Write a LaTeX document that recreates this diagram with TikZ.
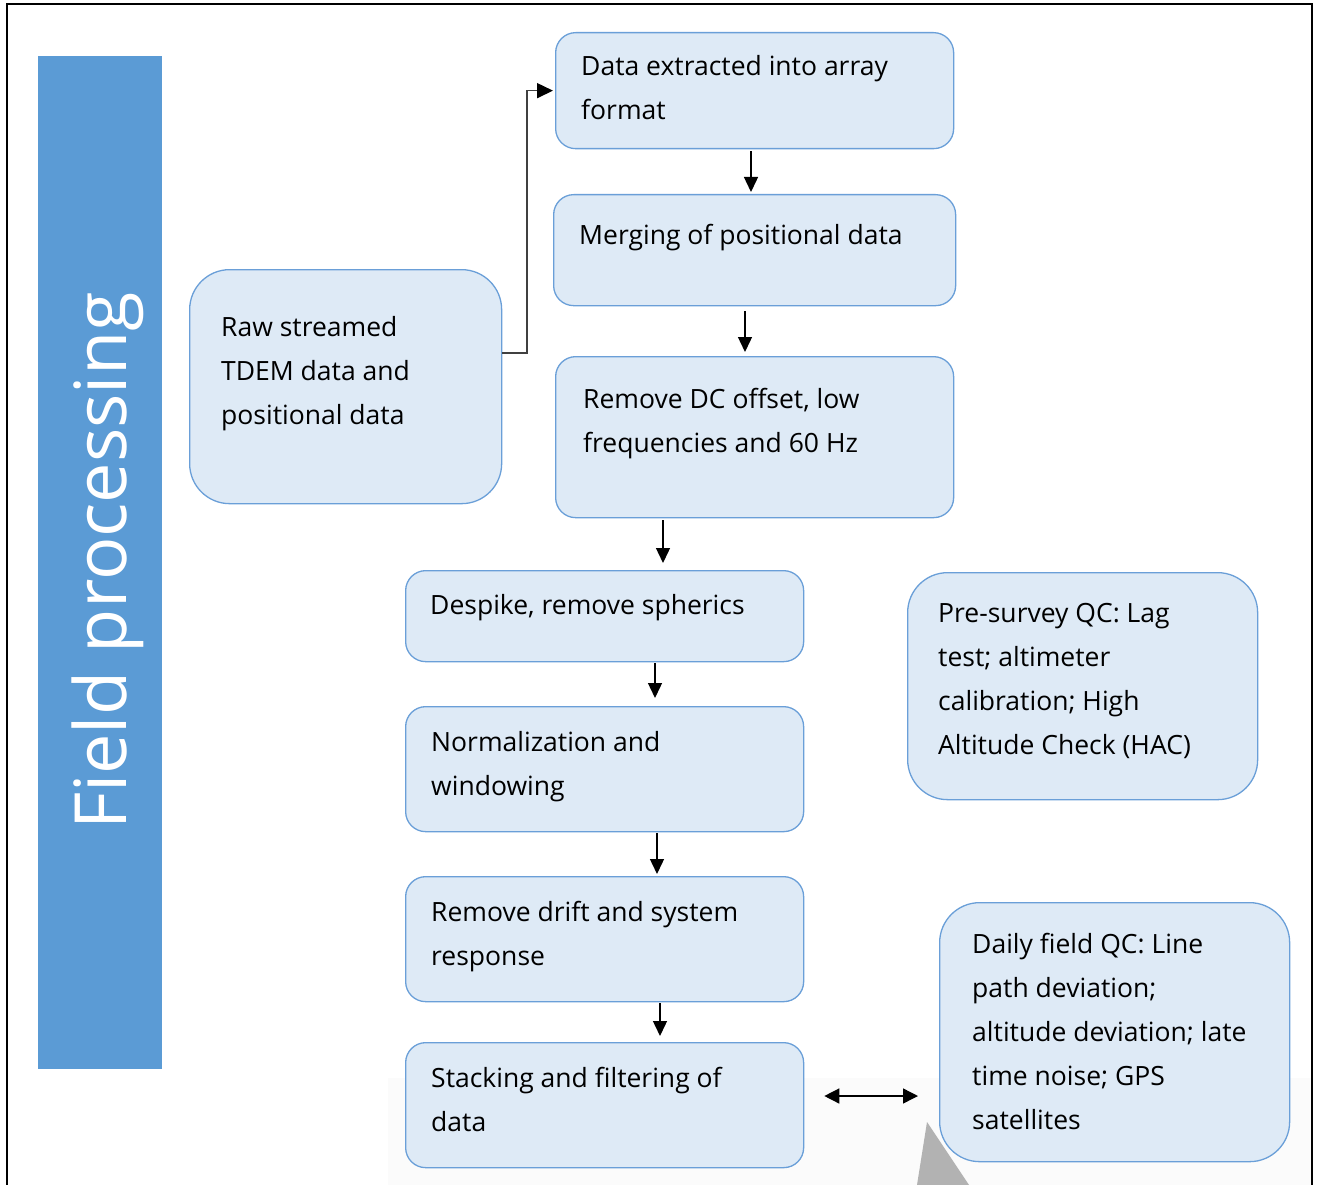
\documentclass[tikz,border=0pt]{standalone}
\usepackage{fontspec}
\setmainfont{Open Sans}
\usetikzlibrary{arrows.meta,calc}

\definecolor{barblue}{HTML}{5B9BD5}
\definecolor{boxfill}{HTML}{DEEAF6}
\definecolor{boxline}{HTML}{6A9FD8}
\definecolor{elbowgray}{HTML}{404040}

% text block inside a box: first-line baseline is the anchor
\newcommand\stepText[1]{\parbox[t]{400pt}{\raggedright\fontsize{26.5}{44}\selectfont #1}}

\tikzset{
  x=1pt, y=-1pt,
  stepbox/.style={draw=boxline, line width=1.3pt, fill=boxfill,
    rounded corners=20pt, inner sep=0pt, anchor=north west},
  bigbox/.style={stepbox, rounded corners=40pt},
  steptext/.style={inner sep=0pt, anchor=base west, text=black},
  arr/.style={line width=1.4pt, -{Triangle[length=15pt,width=14pt]}},
  dblarr/.style={line width=1.4pt, {Triangle[length=15pt,width=15pt]}-{Triangle[length=15pt,width=15pt]}},
}

\begin{document}
\begin{tikzpicture}
\useasboundingbox (0,0) rectangle (1317,1185);
\fill[white] (0,0) rectangle (1317,1185);

% faint shaded patch along the bottom edge
\fill[black!1.5] (388,1078) rectangle (1312,1185);
\fill[black!30] (927,1122) -- (969,1185) -- (917,1185) -- cycle;

% outer frame (open at the bottom)
\draw[line width=2.6pt, line cap=rect] (7,1186) -- (7,4) -- (1312,4) -- (1312,1186);

% side banner
\fill[barblue] (38,56) rectangle (162,1069);
\node[rotate=90, anchor=base, text=white, inner sep=0pt, font=\fontsize{72}{72}\selectfont]
  (title) at (126,561) {Field processing};

% process boxes
\node[stepbox, minimum width=398pt, minimum height=116pt] (extract) at (555,32) {};
\node[stepbox, minimum width=402pt, minimum height=111pt] (merge) at (553,194) {};
\node[stepbox, minimum width=398pt, minimum height=161pt] (dcoff) at (555,356) {};
\node[bigbox, minimum width=312pt, minimum height=234pt] (raw) at (189,269) {};
\node[stepbox, minimum width=398pt, minimum height=91pt] (despike) at (405,570) {};
\node[stepbox, minimum width=398pt, minimum height=125pt] (norm) at (405,706) {};
\node[stepbox, minimum width=398pt, minimum height=125pt] (drift) at (405,876) {};
\node[stepbox, minimum width=398pt, minimum height=125pt] (stack) at (405,1042) {};
\node[bigbox, minimum width=350pt, minimum height=227pt] (preqc) at (907,572) {};
\node[bigbox, minimum width=350pt, minimum height=259pt] (dailyqc) at (939,902) {};

% box labels
\node[steptext] (extract-t) at ($(extract.north west)+(26,44)$) {\stepText{Data extracted into array\\format}};
\node[steptext] (merge-t) at ($(merge.north west)+(26,50)$) {\stepText{Merging of positional data}};
\node[steptext] (dcoff-t) at ($(dcoff.north west)+(28,52)$) {\stepText{Remove DC offset, low\\frequencies and 60 Hz}};
\node[steptext] (raw-t) at ($(raw.north west)+(32,67)$) {\stepText{Raw streamed\\TDEM data and\\positional data}};
\node[steptext] (despike-t) at ($(despike.north west)+(25,44)$) {\stepText{Despike, remove spherics}};
\node[steptext] (norm-t) at ($(norm.north west)+(26,45)$) {\stepText{Normalization and\\windowing}};
\node[steptext] (drift-t) at ($(drift.north west)+(26,45)$) {\stepText{Remove drift and system\\response}};
\node[steptext] (stack-t) at ($(stack.north west)+(26,45)$) {\stepText{Stacking and filtering of\\data}};
\node[steptext] (preqc-t) at ($(preqc.north west)+(31,50)$) {\stepText{Pre-survey QC: Lag\\test; altimeter\\calibration; High\\Altitude Check (HAC)}};
\node[steptext] (dailyqc-t) at ($(dailyqc.north west)+(33,51)$) {\stepText{Daily field QC: Line\\path deviation;\\altitude deviation; late\\time noise; GPS\\satellites}};

% connectors
\coordinate (elbow) at (527,353);
\draw[line width=1.6pt, draw=elbowgray, -{Triangle[length=16pt,width=15pt,color=black]}]
  (raw.east |- elbow) -- (elbow) -- (elbow |- extract.west) -- ([xshift=-2pt]extract.west);
\draw[arr] ([yshift=-2pt]751,0 |- extract.south) -- ([yshift=2pt]751,0 |- merge.north);
\draw[arr] ([yshift=-5pt]745,0 |- merge.south) -- ([yshift=4pt]745,0 |- dcoff.north);
\draw[arr] ([yshift=-2pt]663,0 |- dcoff.south) -- ([yshift=7pt]663,0 |- despike.north);
\draw[arr] ([yshift=-1pt]655,0 |- despike.south) -- ([yshift=8pt]655,0 |- norm.north);
\draw[arr] ([yshift=-1pt]657,0 |- norm.south) -- ([yshift=2pt]657,0 |- drift.north);
\draw[arr] ([yshift=-1pt]660,0 |- drift.south) -- ([yshift=6pt]660,0 |- stack.north);
\coordinate (dbl-l) at (823,1096);
\coordinate (dbl-r) at (918,1096);
\draw[dblarr] ($(stack.east |- dbl-l)+(20,0)$) -- ($(dailyqc.west |- dbl-r)+(-21,0)$);
\end{tikzpicture}
\end{document}
